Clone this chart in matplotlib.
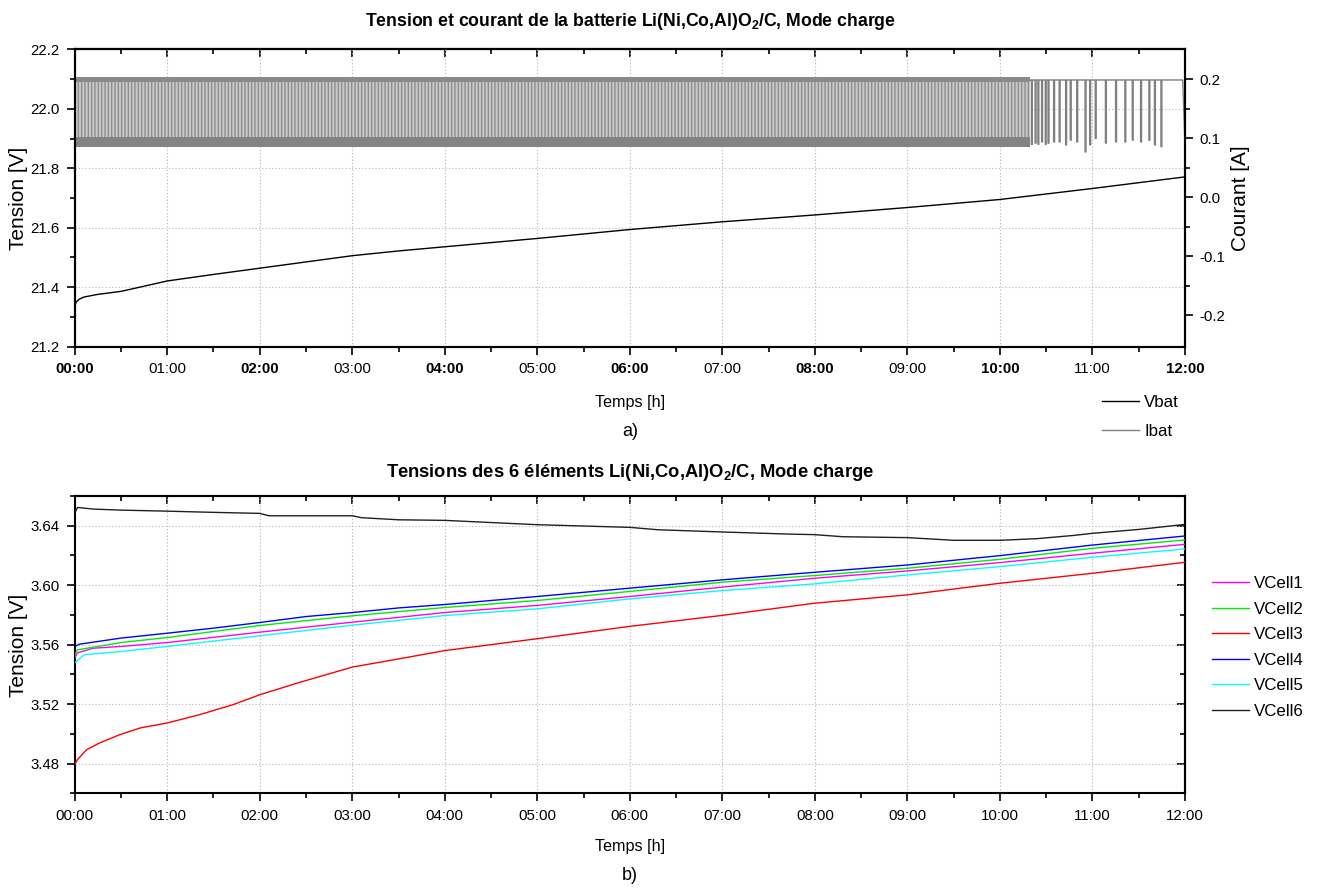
import matplotlib
matplotlib.use('Agg')
import matplotlib.pyplot as plt
from matplotlib import font_manager
from matplotlib.ticker import MultipleLocator, FixedLocator, FuncFormatter
from matplotlib.lines import Line2D

# ---------------- data ----------------
hour_labels = ['00:00', '01:00', '02:00', '03:00', '04:00', '05:00', '06:00',
               '07:00', '08:00', '09:00', '10:00', '11:00', '12:00']

# battery voltage (h, V)
vbat_t = [0, 0.015, 0.05, 0.1, 0.25, 0.5, 1, 1.5, 2, 2.5, 3, 3.5, 4, 5, 6, 7, 8, 9, 10, 11, 12]
vbat_v = [21.333, 21.350, 21.360, 21.367, 21.376, 21.386, 21.421, 21.443, 21.464, 21.485,
          21.506, 21.522, 21.536, 21.564, 21.594, 21.620, 21.643, 21.668, 21.695, 21.732, 21.771]

# battery current (A): dense switching zone, then individual dips
ibat_dense_t = [0, 10.33]
ibat_low_band = [0.086, 0.102]
ibat_high_band = [0.196, 0.204]
ibat_high = 0.199
ibat_dip_start = [10.34, 10.38, 10.41, 10.45, 10.49, 10.52, 10.58, 10.64, 10.71, 10.76, 10.83,
                  10.92, 10.97, 11.03, 11.14, 11.25, 11.35, 11.43, 11.52, 11.61, 11.67, 11.74]
ibat_dip_end = [10.35, 10.39, 10.42, 10.46, 10.50, 10.53, 10.59, 10.65, 10.72, 10.77, 10.84,
                10.93, 10.98, 11.04, 11.15, 11.26, 11.36, 11.44, 11.53, 11.62, 11.68, 11.75]
ibat_dip_low = [0.090, 0.092, 0.090, 0.094, 0.090, 0.092, 0.094, 0.094, 0.089, 0.097, 0.094,
                0.077, 0.089, 0.100, 0.092, 0.094, 0.094, 0.097, 0.094, 0.097, 0.089, 0.086]
ibat_end_t = [11.975, 12.0]
ibat_end_v = [0.199, 0.090]

# cell voltages (h, V)
c1_t = [0, 0.03, 0.2, 0.5, 1, 2, 3, 4, 5, 6, 7, 8, 9, 10, 11, 12]
c1_v = [3.5510, 3.5545, 3.5576, 3.5588, 3.5614, 3.5684, 3.5751, 3.5816, 3.5864, 3.5924,
        3.5987, 3.6047, 3.6096, 3.6152, 3.6215, 3.6275]
c2_t = [0, 0.03, 0.5, 1, 2, 3, 4, 5, 6, 7, 8, 9, 10, 11, 12]
c2_v = [3.5530, 3.5565, 3.5614, 3.5648, 3.5729, 3.5794, 3.5850, 3.5897, 3.5958, 3.6020,
        3.6065, 3.6114, 3.6174, 3.6248, 3.6304]
c3_t = [0, 0.03, 0.13, 0.27, 0.49, 0.71, 1, 1.35, 1.71, 2, 2.43, 3, 3.51, 4, 5, 6, 7, 8,
        9, 10, 11, 12]
c3_v = [3.4793, 3.4827, 3.4894, 3.4939, 3.4995, 3.5040, 3.5073, 3.5129, 3.5196, 3.5263,
        3.5346, 3.5449, 3.5505, 3.5560, 3.5640, 3.5723, 3.5797, 3.5879, 3.5935, 3.6013,
        3.6080, 3.6154]
c4_t = [0, 0.05, 0.5, 1, 1.5, 2, 2.5, 3, 3.5, 4, 5, 6, 7, 8, 9, 10, 11, 12]
c4_v = [3.5588, 3.5603, 3.5644, 3.5677, 3.5711, 3.5749, 3.5789, 3.5816, 3.5847, 3.5870,
        3.5924, 3.5980, 3.6036, 3.6087, 3.6136, 3.6199, 3.6270, 3.6331]
c5_t = [0, 0.1, 0.5, 1, 2, 3, 4, 5, 6, 7, 8, 9, 10, 11, 12]
c5_v = [3.5476, 3.5532, 3.5554, 3.5588, 3.5660, 3.5731, 3.5796, 3.5841, 3.5908, 3.5964,
        3.6009, 3.6069, 3.6125, 3.6188, 3.6244]
c6_t = [0, 0.03, 0.2, 0.5, 1, 1.5, 2, 2.1, 3, 3.1, 3.5, 4, 5, 6, 6.3, 7, 7.7, 8, 8.3, 9,
        9.5, 10, 10.4, 10.8, 11, 11.5, 12]
c6_v = [3.6483, 3.6523, 3.6512, 3.6505, 3.6498, 3.6490, 3.6483, 3.6467, 3.6467, 3.6454,
        3.6440, 3.6436, 3.6407, 3.6389, 3.6373, 3.6358, 3.6344, 3.6340, 3.6326, 3.6320,
        3.6302, 3.6302, 3.6313, 3.6335, 3.6349, 3.6375, 3.6409]

cell_names = ['VCell1', 'VCell2', 'VCell3', 'VCell4', 'VCell5', 'VCell6']
cell_colors = ['#ff00ff', '#00ee00', '#ff0000', '#0000ff', '#00ffff', '#202020']

# ---------------- fonts ----------------
names = {f.name for f in font_manager.fontManager.ttflist}
NARROW = 'Liberation Sans Narrow' in names
BASE = 'Liberation Sans'
COND = 'Liberation Sans Narrow' if NARROW else BASE
plt.rcParams['font.family'] = [BASE, 'DejaVu Sans']
plt.rcParams['mathtext.fontset'] = 'custom'
plt.rcParams['mathtext.rm'] = COND
plt.rcParams['mathtext.bf'] = COND + ':bold'
plt.rcParams['mathtext.default'] = 'bf'
plt.rcParams['hatch.linewidth'] = 1.0

if NARROW:
    TICK, TITLE, TITLE2, XLAB, LEG = 11.5, 14.0, 14.5, 13.0, 14.5
else:
    TICK, TITLE, TITLE2, XLAB, LEG = 10.8, 12.7, 13.2, 11.6, 12.2
W = 1318.0
H = 890.0


def fx(px):
    return px / W


def fy(py):
    return 1 - py / H


fig = plt.figure(figsize=(13.18, 8.9), dpi=100)
L, R = 74.7, 1185.0
ax1 = fig.add_axes([fx(L), fy(346.7), fx(R - L), (346.7 - 49.3) / H])
ax2 = fig.add_axes([fx(L), fy(793.3), fx(R - L), (793.3 - 496.0) / H])

grid_kw = dict(color='#b4b4b4', linestyle=(0, (1, 2)), linewidth=0.8)
spine_w = 1.5


def style_time_axis(ax, bold_even=False):
    ax.set_xlim(0, 12)
    ax.xaxis.set_major_locator(FixedLocator(list(range(13))))
    ax.xaxis.set_minor_locator(MultipleLocator(0.5))
    ax.set_xticklabels(hour_labels, family=[COND, 'DejaVu Sans'], fontsize=TICK)
    if bold_even:
        for i, lab in enumerate(ax.get_xticklabels()):
            if i % 2 == 0:
                lab.set_fontweight('bold')
    ax.tick_params(axis='both', which='major', direction='out', length=6, width=1.2, pad=5)
    ax.tick_params(axis='both', which='minor', direction='out', length=3.5, width=1.2)
    for s in ax.spines.values():
        s.set_linewidth(spine_w)
    ax.grid(True, which='major', **grid_kw)
    sec = ax.secondary_xaxis('top')
    sec.xaxis.set_major_locator(FixedLocator(list(range(13))))
    sec.xaxis.set_minor_locator(MultipleLocator(0.5))
    sec.tick_params(which='major', direction='in', length=6, width=1.2, labeltop=False)
    sec.tick_params(which='minor', direction='in', length=3.5, width=1.2)
    sec.spines['top'].set_linewidth(spine_w)


# ---------------- top plot ----------------
style_time_axis(ax1, bold_even=True)
ax1.set_ylim(21.2, 22.2)
ax1.yaxis.set_major_locator(MultipleLocator(0.2))
ax1.yaxis.set_minor_locator(MultipleLocator(0.1))
ax1.yaxis.set_major_formatter(FuncFormatter(lambda v, p: f'{v:.1f}'))
ax1.tick_params(axis='y', labelsize=TICK)
for lab in ax1.get_yticklabels():
    lab.set_family([COND, 'DejaVu Sans'])
ax1.plot(vbat_t, vbat_v, color='black', lw=1.0, zorder=3)

axr = ax1.twinx()
axr.set_ylim(-0.253, 0.251)
axr.yaxis.set_major_locator(FixedLocator([-0.2, -0.1, 0.0, 0.1, 0.2]))
axr.yaxis.set_minor_locator(FixedLocator([-0.15, -0.05, 0.05, 0.15]))
axr.yaxis.set_major_formatter(FuncFormatter(lambda v, p: f'{v:.1f}'.replace('-0.0', '0.0')))
axr.tick_params(axis='y', which='major', direction='out', length=6, width=1.2, pad=4,
                labelsize=TICK)
axr.tick_params(axis='y', which='minor', direction='out', length=3.5, width=1.2)
for lab in axr.get_yticklabels():
    lab.set_family([COND, 'DejaVu Sans'])
for s in axr.spines.values():
    s.set_linewidth(spine_w)

# dense switching zone drawn as textured bands
axr.fill_between(ibat_dense_t, [ibat_low_band[1]] * 2, [ibat_high_band[0]] * 2,
                 facecolor='#c9c9c9', edgecolor='#8f8f8f', hatch='|' * 5, lw=0, zorder=1)
axr.fill_between(ibat_dense_t, [ibat_low_band[0]] * 2, [ibat_low_band[1]] * 2,
                 color='#838383', lw=0, zorder=2)
axr.fill_between(ibat_dense_t, [ibat_high_band[0]] * 2, [ibat_high_band[1]] * 2,
                 color='#8a8a8a', lw=0, zorder=2)
# sparse dips
it = [ibat_dense_t[1]]
iv = [ibat_high]
for s, e, lo in zip(ibat_dip_start, ibat_dip_end, ibat_dip_low):
    it += [s, s, e, e]
    iv += [ibat_high, lo, lo, ibat_high]
it += ibat_end_t
iv += ibat_end_v
axr.plot(it, iv, color='#808080', lw=1.0, zorder=2)

# ---------------- bottom plot ----------------
style_time_axis(ax2)
ax2.set_ylim(3.46, 3.66)
ax2.yaxis.set_major_locator(FixedLocator([3.48, 3.52, 3.56, 3.60, 3.64]))
ax2.yaxis.set_minor_locator(FixedLocator([3.46, 3.50, 3.54, 3.58, 3.62, 3.66]))
ax2.yaxis.set_major_formatter(FuncFormatter(lambda v, p: f'{v:.2f}'))
ax2.tick_params(axis='y', labelsize=TICK)
for lab in ax2.get_yticklabels():
    lab.set_family([COND, 'DejaVu Sans'])
secr = ax2.secondary_yaxis('right')
secr.yaxis.set_major_locator(FixedLocator([3.48, 3.52, 3.56, 3.60, 3.64]))
secr.yaxis.set_minor_locator(FixedLocator([3.50, 3.54, 3.58, 3.62]))
secr.tick_params(which='major', direction='in', length=6, width=1.2, labelright=False)
secr.tick_params(which='minor', direction='in', length=3.5, width=1.2)
secr.spines['right'].set_linewidth(spine_w)

cells_t = [c1_t, c2_t, c3_t, c4_t, c5_t, c6_t]
cells_v = [c1_v, c2_v, c3_v, c4_v, c5_v, c6_v]
cell_lines = []
for t, v, c, n in zip(cells_t, cells_v, cell_colors, cell_names):
    ln, = ax2.plot(t, v, color=c, lw=1.0, label=n, zorder=3)
    cell_lines.append(ln)

# ---------------- texts ----------------
title_kw = dict(ha='center', va='center', fontweight='bold', family=[COND, 'DejaVu Sans'])
fig.text(fx(630), fy(22), r'Tension et courant de la batterie Li(Ni,Co,Al)O$_{2}$/C, Mode charge',
         fontsize=TITLE, **title_kw)
fig.text(fx(630), fy(472), r'Tensions des 6 éléments Li(Ni,Co,Al)O$_{2}$/C, Mode charge',
         fontsize=TITLE2, **title_kw)

lab_kw = dict(ha='center', va='center', fontsize=15, family=[BASE, 'DejaVu Sans'])
fig.text(fx(19), fy(198), 'Tension [V]', rotation=90, **lab_kw)
fig.text(fx(1240), fy(198), 'Courant [A]', rotation=90, **lab_kw)
fig.text(fx(19), fy(645), 'Tension [V]', rotation=90, **lab_kw)

xl_kw = dict(ha='center', va='center', fontsize=XLAB, family=[COND, 'DejaVu Sans'])
fig.text(fx(630), fy(402), 'Temps [h]', **xl_kw)
fig.text(fx(630), fy(847), 'Temps [h]', **xl_kw)
fig.text(fx(630), fy(432), 'a)', ha='center', va='center', fontsize=13,
         family=[BASE, 'DejaVu Sans'])
fig.text(fx(630), fy(876), 'b)', ha='center', va='center', fontsize=13,
         family=[BASE, 'DejaVu Sans'])

leg_font = {'family': [COND, 'DejaVu Sans'], 'size': LEG}
h_top = [Line2D([], [], color='black', lw=1.0), Line2D([], [], color='#808080', lw=1.0)]
fig.legend(h_top, ['Vbat', 'Ibat'], loc='upper left', bbox_to_anchor=(fx(1102), fy(395)),
           frameon=False, prop=leg_font, handlelength=2.2, handletextpad=0.3,
           labelspacing=0.82, borderpad=0, borderaxespad=0)
fig.legend(cell_lines, cell_names, loc='upper left', bbox_to_anchor=(fx(1212), fy(576)),
           frameon=False, prop=leg_font, handlelength=2.2, handletextpad=0.3,
           labelspacing=0.62, borderpad=0, borderaxespad=0)

fig.savefig('out.png', dpi=100)
